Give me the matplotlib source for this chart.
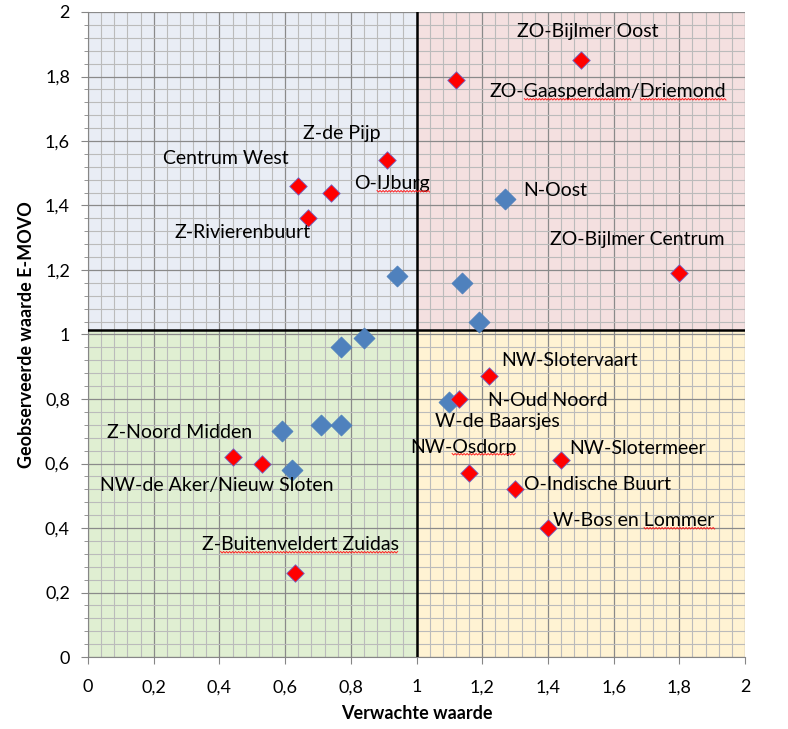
import matplotlib
matplotlib.use("Agg")
import matplotlib.pyplot as plt
import numpy as np
from matplotlib.ticker import MultipleLocator, FuncFormatter
from matplotlib.patches import Rectangle
from matplotlib.lines import Line2D

plt.rcParams['font.family'] = ['Lato', 'DejaVu Sans']

# Red diamonds (labelled districts)
red_names = ["ZO-Bijlmer Oost", "ZO-Gaasperdam/Driemond", "Z-de Pijp", "O-IJburg",
             "Centrum West", "Z-Rivierenbuurt", "ZO-Bijlmer Centrum", "NW-Slotervaart",
             "N-Oud Noord", "NW-Osdorp", "O-Indische Buurt", "NW-Slotermeer",
             "W-Bos en Lommer", "Z-Noord Midden", "NW-de Aker/Nieuw Sloten",
             "Z-Buitenveldert Zuidas"]
red_x = [1.50, 1.12, 0.91, 0.74, 0.64, 0.67, 1.80, 1.22, 1.13, 1.16, 1.30, 1.44, 1.40, 0.44, 0.53, 0.63]
red_y = [1.85, 1.79, 1.54, 1.44, 1.46, 1.36, 1.19, 0.87, 0.80, 0.57, 0.52, 0.61, 0.40, 0.62, 0.60, 0.26]

# Blue diamonds
blue_x = [1.27, 0.94, 1.14, 1.19, 0.84, 0.77, 0.71, 0.77, 0.59, 0.62, 1.10]
blue_y = [1.42, 1.18, 1.16, 1.04, 0.99, 0.96, 0.72, 0.72, 0.70, 0.58, 0.79]

# Text labels and their positions (pixel centres in the reference)
label_texts = ["ZO-Bijlmer Oost", "ZO-Gaasperdam/Driemond", "Z-de Pijp", "Centrum West",
               "O-IJburg", "N-Oost", "Z-Rivierenbuurt", "ZO-Bijlmer Centrum",
               "NW-Slotervaart", "N-Oud Noord", "W-de Baarsjes", "NW-Osdorp",
               "NW-Slotermeer", "O-Indische Buurt", "W-Bos en Lommer", "Z-Noord Midden",
               "NW-de Aker/Nieuw Sloten", "Z-Buitenveldert Zuidas"]
label_px = [(588, 31), (608, 92), (342, 133), (226, 159), (392, 184), (555, 190),
            (243, 232), (637, 239), (570, 360), (548, 400), (497, 421), (463, 447),
            (638, 449), (598, 485), (634, 521), (180, 432), (217, 485), (300, 545)]

# words marked by the spell checker (label, list of (start, end) char spans)
squiggles = {"ZO-Gaasperdam/Driemond": [(3, 13), (14, 22)],
             "O-IJburg": [(2, 8)],
             "NW-Osdorp": [(3, 9)],
             "W-Bos en Lommer": [(9, 15)],
             "Z-Buitenveldert Zuidas": [(2, 22)]}

x_split = 1.0
y_split = 1.015

fig = plt.figure(figsize=(7.88, 7.29), dpi=100)
ax = fig.add_axes([88/788, 1-657/729, (745-88)/788, (657-12)/729])
ax.set_xlim(0, 2)
ax.set_ylim(0, 2)

quads = [((0, y_split), x_split, 2 - y_split, '#E9EDF5'),
         ((x_split, y_split), 2 - x_split, 2 - y_split, '#F4E0E0'),
         ((0, 0), x_split, y_split, '#E0EFD2'),
         ((x_split, 0), 2 - x_split, y_split, '#FFF3D3')]
for xy, w, h, c in quads:
    ax.add_patch(Rectangle(xy, w, h, facecolor=c, edgecolor='none', zorder=0))

ax.xaxis.set_major_locator(MultipleLocator(0.2))
ax.yaxis.set_major_locator(MultipleLocator(0.2))
ax.xaxis.set_minor_locator(MultipleLocator(0.04))
ax.yaxis.set_minor_locator(MultipleLocator(0.04))
ax.grid(which='minor', color='#BBBBBB', linewidth=0.8, zorder=1)
ax.grid(which='major', color='#8A8A8A', linewidth=0.9, zorder=1)
ax.set_axisbelow(True)

fmt = FuncFormatter(lambda v, p: ('%g' % round(v, 2)).replace('.', ','))
ax.xaxis.set_major_formatter(fmt)
ax.yaxis.set_major_formatter(fmt)
ax.tick_params(which='major', length=5, color='#868686', labelsize=13)
ax.tick_params(axis='x', which='major', pad=11)
ax.tick_params(axis='y', which='major', pad=8)
ax.tick_params(axis='y', which='minor', length=3, color='#868686')
ax.tick_params(axis='x', which='minor', length=0)
for s in ['top', 'right']:
    ax.spines[s].set_visible(False)
for s in ['left', 'bottom']:
    ax.spines[s].set_color('#868686')

ax.axvline(x_split, color='black', linewidth=1.8, zorder=3)
ax.axhline(y_split, color='black', linewidth=1.8, zorder=3)

ax.scatter(blue_x, blue_y, marker='D', s=115, color='#4F81BD', edgecolors='#4A7EBB',
           linewidths=0.5, zorder=4)
ax.scatter(red_x, red_y, marker='D', s=80, color='#FF0000', edgecolors='#6F6FD0',
           linewidths=0.6, zorder=5)

texts = {}
for t, (px, py) in zip(label_texts, label_px):
    dx = (px - 88) / 328.5
    dy = (657 - py) / 322.5
    texts[t] = ax.text(dx, dy, t, ha='center', va='center', fontsize=14, zorder=6)

ax.set_xlabel('Verwachte waarde', fontsize=13, fontweight='bold')
ax.set_ylabel('Geobserveerde waarde E-MOVO', fontsize=13, fontweight='bold')
ax.xaxis.set_label_coords(0.5, -0.075)
ax.yaxis.set_label_coords(-0.080, 0.5)

# spell-check squiggles
fig.canvas.draw()
renderer = fig.canvas.get_renderer()

def text_width(s, ref):
    tmp = fig.text(0, 0, s, fontsize=ref.get_fontsize(), family=ref.get_fontfamily())
    w = tmp.get_window_extent(renderer).width if s else 0.0
    tmp.remove()
    return w

for name, spans in squiggles.items():
    t = texts[name]
    bb = t.get_window_extent(renderer)
    for a, b in spans:
        x0 = bb.x0 + text_width(name[:a], t)
        x1 = bb.x0 + text_width(name[:b], t)
        xs = np.arange(x0, x1 + 0.01, 1.5)
        ys = bb.y0 + 2.0 + np.where(np.arange(len(xs)) % 2 == 0, 0.0, -1.5)
        fig.add_artist(Line2D(xs, ys, transform=None, color='#FF2020', linewidth=0.7, zorder=7))

fig.savefig('out.png', dpi=100)
